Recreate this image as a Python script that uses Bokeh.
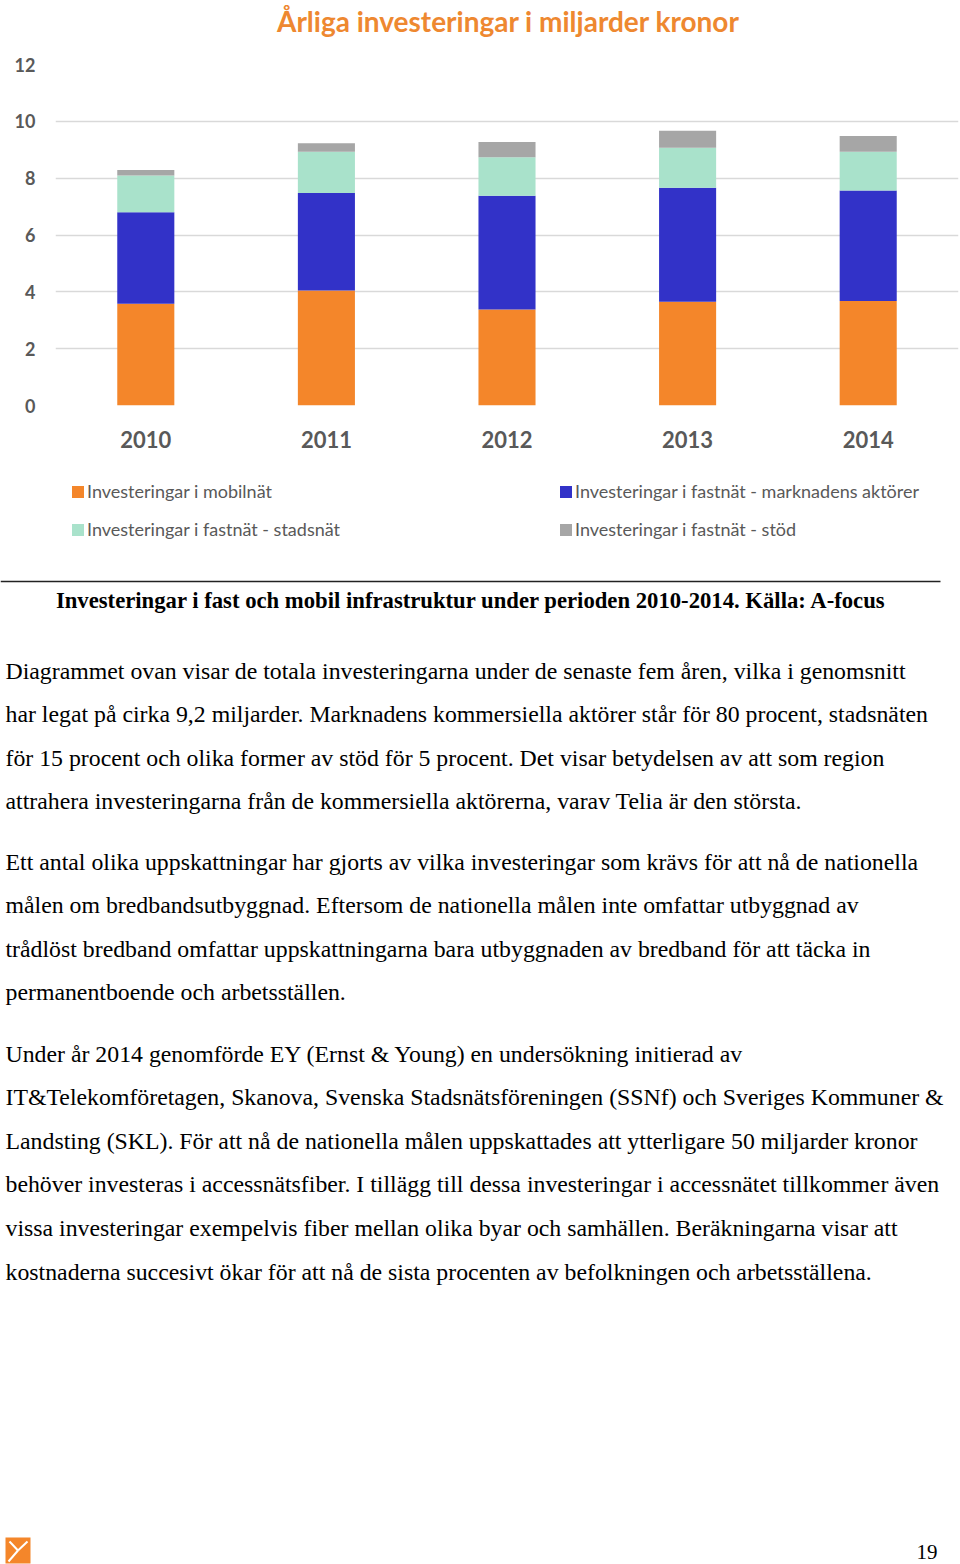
from bokeh.plotting import figure
from bokeh.models import Range1d, FixedTicker, Legend, LegendItem, ColumnDataSource
from bokeh.core.properties import value
from bokeh.embed import file_html
from bokeh.resources import INLINE

# ---------------- data ----------------
years = ["2010", "2011", "2012", "2013", "2014"]
mobilnat = [3.58, 4.05, 3.38, 3.65, 3.68]
fastnat_marknad = [3.22, 3.43, 4.00, 4.01, 3.89]
fastnat_stadsnat = [1.29, 1.45, 1.36, 1.41, 1.36]
fastnat_stod = [0.20, 0.30, 0.53, 0.60, 0.55]
series_labels = [
    "Investeringar i mobilnät",
    "Investeringar i fastnät - marknadens aktörer",
    "Investeringar i fastnät - stadsnät",
    "Investeringar i fastnät - stöd",
]
series_colors = ["#F4862A", "#3232C8", "#A9E2CB", "#A6A6A6"]
y_ticks = [0, 2, 4, 6, 8, 10, 12]
chart_title = "Årliga investeringar i miljarder kronor"

caption = "Investeringar i fast och mobil infrastruktur under perioden 2010-2014. Källa: A-focus"
paragraphs = [
    [
        "Diagrammet ovan visar de totala investeringarna under de senaste fem åren, vilka i genomsnitt",
        "har legat på cirka 9,2 miljarder. Marknadens kommersiella aktörer står för 80 procent, stadsnäten",
        "för 15 procent och olika former av stöd för 5 procent. Det visar betydelsen av att som region",
        "attrahera investeringarna från de kommersiella aktörerna, varav Telia är den största.",
    ],
    [
        "Ett antal olika uppskattningar har gjorts av vilka investeringar som krävs för att nå de nationella",
        "målen om bredbandsutbyggnad. Eftersom de nationella målen inte omfattar utbyggnad av",
        "trådlöst bredband omfattar uppskattningarna bara utbyggnaden av bredband för att täcka in",
        "permanentboende och arbetsställen.",
    ],
    [
        "Under år 2014 genomförde EY (Ernst & Young) en undersökning initierad av",
        "IT&Telekomföretagen, Skanova, Svenska Stadsnätsföreningen (SSNf) och Sveriges Kommuner &",
        "Landsting (SKL). För att nå de nationella målen uppskattades att ytterligare 50 miljarder kronor",
        "behöver investeras i accessnätsfiber. I tillägg till dessa investeringar i accessnätet tillkommer även",
        "vissa investeringar exempelvis fiber mellan olika byar och samhällen. Beräkningarna visar att",
        "kostnaderna succesivt ökar för att nå de sista procenten av befolkningen och arbetsställena.",
    ],
]
page_number = "19"


def blank_figure(h, x_end, y_start, y_end):
    f = figure(width=960, height=h, x_range=Range1d(0, x_end), y_range=Range1d(y_start, y_end),
               output_backend="svg", toolbar_location=None,
               min_border=0, min_border_left=0, min_border_right=0,
               min_border_top=0, min_border_bottom=0)
    f.axis.visible = False
    f.grid.visible = False
    f.outline_line_color = None
    return f


# ---------------- title strip ----------------
TITLE_H = 40
tt = blank_figure(TITLE_H, 960, TITLE_H, 0)
tt.text(x=[508], y=[20], text=[chart_title], text_font=value("Lato"),
        text_font_style="bold", text_font_size="28px", text_align="center",
        text_baseline="middle", text_color="#EE8830")

# ---------------- chart ----------------
CHART_H = 465 - TITLE_H
stackers = ["mobilnat", "marknad", "stadsnat", "stod"]
source = ColumnDataSource(dict(
    years=years, mobilnat=mobilnat, marknad=fastnat_marknad,
    stadsnat=fastnat_stadsnat, stod=fastnat_stod))

p = figure(x_range=years, y_range=Range1d(0, 12), width=960, height=CHART_H,
           output_backend="svg", toolbar_location=None,
           min_border_left=55, min_border_right=2, min_border_top=64 - TITLE_H,
           min_border_bottom=465 - 405)

p.vbar_stack(stackers, x="years", width=0.316, color=series_colors,
             line_color=None, source=source)

p.outline_line_color = None
p.xgrid.grid_line_color = None
p.ygrid.grid_line_color = "#D9D9D9"
p.ygrid.grid_line_width = 1.3

p.yaxis.ticker = FixedTicker(ticks=y_ticks)
p.yaxis.axis_line_color = None
p.yaxis.major_tick_line_color = None
p.yaxis.minor_tick_line_color = None
p.yaxis.major_label_text_font = "Lato"
p.yaxis.major_label_text_font_size = "18px"
p.yaxis.major_label_text_font_style = "bold"
p.yaxis.major_label_text_color = "#595959"
p.yaxis.major_label_standoff = 14

p.xaxis.axis_line_color = None
p.xaxis.major_tick_line_color = None
p.xaxis.major_label_text_font = "Lato"
p.xaxis.major_label_text_font_size = "22px"
p.xaxis.major_label_text_font_style = "bold"
p.xaxis.major_label_text_color = "#595959"
p.xaxis.major_label_standoff = 19

# ---------------- legend strip ----------------
LEG_H = 108
lg = blank_figure(LEG_H, 1, 0, 1)
key_renderers = []
for col in series_colors:
    key_src = ColumnDataSource(dict(x=[float("nan")], top=[float("nan")]))
    key_renderers.append(lg.vbar(x="x", top="top", width=0.1, fill_color=col,
                                 line_color=None, source=key_src))
items = [LegendItem(label=series_labels[i], renderers=[key_renderers[i]]) for i in range(4)]
legend = Legend(items=items, location=(70, 33), orientation="horizontal", ncols=2,
                glyph_width=15, glyph_height=15, label_standoff=2, label_width=455,
                label_height=18, spacing=16, padding=0, margin=0,
                label_text_font="Lato", label_text_font_size="18px",
                label_text_color="#595959", border_line_color=None,
                background_fill_alpha=0)
lg.add_layout(legend, "center")

# ---------------- text page ----------------
TEXT_H = 1564 - 465 - LEG_H
t = blank_figure(TEXT_H, 960, TEXT_H, 0)

t.segment(x0=[0], y0=[8], x1=[940], y1=[8], line_color="#222222", line_width=1.5)
t.text(x=[471], y=[27], text=[caption], text_font=value("Liberation Serif"),
       text_font_style="bold", text_font_size="22.7px", text_align="center",
       text_baseline="middle", text_color="#000000")

line_gap = 43.6
para_starts = [97, 288, 480]
xs, ys, txt = [], [], []
for start, lines in zip(para_starts, paragraphs):
    for i, line in enumerate(lines):
        xs.append(5)
        ys.append(start + i * line_gap)
        txt.append(line)
t.text(x=xs, y=ys, text=txt, text_font=value("Liberation Serif"),
       text_font_size="23.8px", text_align="left", text_baseline="middle",
       text_color="#000000")

t.quad(left=[5], right=[30], top=[964], bottom=[990], fill_color="#F4862A", line_color=None)
t.segment(x0=[9, 27, 17.5], y0=[968, 968, 977], x1=[17.5, 17.5, 8], y1=[977, 977, 988],
          line_color="white", line_width=2)
t.text(x=[937], y=[985], text=[page_number], text_font=value("Liberation Serif"),
       text_font_size="21px", text_align="right", text_baseline="bottom", text_color="#000000")

open("out.html", "w").write(file_html([tt, p, lg, t], INLINE))
